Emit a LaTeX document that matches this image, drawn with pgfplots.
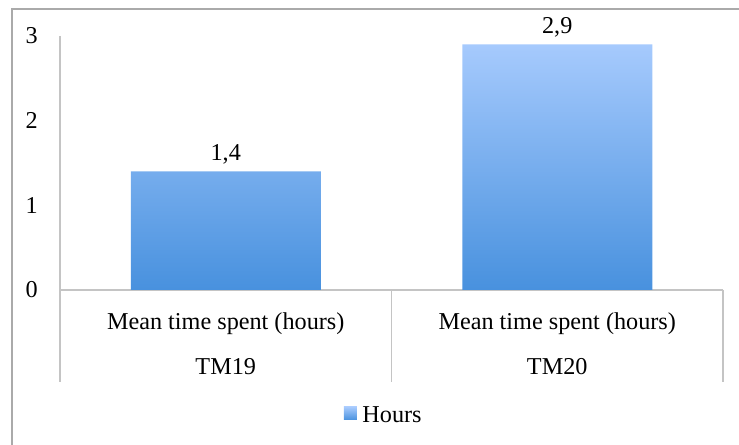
\documentclass[border=0pt]{standalone}
\usepackage{pgfplots}
\pgfplotsset{compat=1.18}
\usepackage{fontspec}
\setmainfont{Liberation Serif}

\definecolor{barTop}{RGB}{166,202,253}
\definecolor{barBot}{RGB}{72,145,222}
\definecolor{axisGray}{RGB}{196,196,196}
\definecolor{frameGray}{RGB}{170,170,170}

\begin{document}
\begin{tikzpicture}[x=1bp,y=1bp]
\path[use as bounding box] (0,0) rectangle (739,445);
\clip (0,0) rectangle (739,445);
% outer chart frame
\draw[frameGray, line width=2.5bp] (12,-10) -- (12,436) -- (760,436);
\begin{axis}[
    at={(60bp,155bp)}, anchor=south west,
    scale only axis, width=663bp, height=254bp,
    xmin=-0.5, xmax=1.5, ymin=0, ymax=3,
    enlargelimits=false, clip=false,
    axis line style={draw=none},
    major tick length=0pt,
    xtick={0,1}, ytick={0,1,2,3},
    xtick pos=bottom, ytick pos=left,
    xticklabels={{Mean time spent (hours)\\TM19},{Mean time spent (hours)\\TM20}},
    ticklabel style={font=\fontsize{24.3}{45}\selectfont},
    yticklabel style={anchor=east, inner sep=0pt, xshift=-22bp,
        /pgf/number format/assume math mode=true},
    xticklabel style={anchor=north, inner sep=0pt, yshift=-23bp, align=center},
    ybar, bar width=190bp,
    nodes near coords={\pgfmathprintnumber[fixed,fixed zerofill,precision=1,use comma,assume math mode=true]{\pgfplotspointmeta}},
    nodes near coords style={anchor=base, inner sep=0pt, yshift=11bp,
        font=\fontsize{24.3}{29}\selectfont},
    legend style={at={(0.491,-0.492)}, anchor=center, draw=none, fill=none,
        font=\fontsize{24.3}{29}\selectfont, nodes={inner sep=2.5bp}},
    legend image code/.code={%
        \path[top color=barTop,bottom color=barBot,overlay] (-3bp,-5bp) rectangle (10bp,8bp);
        \path (0bp,0bp) rectangle (13bp,0bp);},
]
\draw[axisGray, line width=1.5bp] (axis cs:-0.5,3) -- ([yshift=-92bp]axis cs:-0.5,0);
\draw[axisGray, line width=1.5bp] (axis cs:-0.5,0) -- (axis cs:1.5,0);
\draw[axisGray, line width=1.5bp] (axis cs:0.5,0) -- ([yshift=-92bp]axis cs:0.5,0);
\draw[axisGray, line width=1.5bp] (axis cs:1.5,0) -- ([yshift=-92bp]axis cs:1.5,0);
\addplot[draw=none, top color=barTop, bottom color=barBot]
    coordinates {(0,1.4) (1,2.9)};
\legend{Hours}
\end{axis}
\end{tikzpicture}
\end{document}
